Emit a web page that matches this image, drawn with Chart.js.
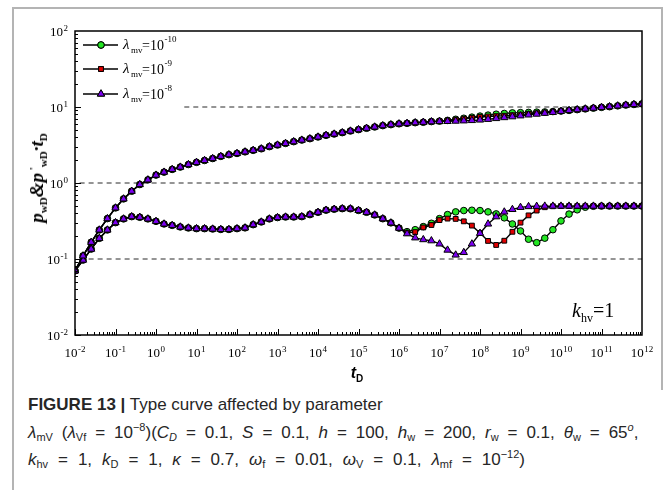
<!DOCTYPE html>
<html><head><meta charset="utf-8">
<script src="https://cdn.jsdelivr.net/npm/chart.js@4.4.1/dist/chart.umd.min.js"></script>
<style>
html,body{margin:0;padding:0;background:#fff;}
#wrap{position:relative;width:665px;height:490px;overflow:hidden;background:#fff;}
#frameL{position:absolute;left:12px;top:7px;width:2px;height:483px;background:#b4b4b4;}
#frameT{position:absolute;left:12px;top:7px;width:651px;height:2px;background:#b4b4b4;}
#frameR{position:absolute;left:661px;top:7px;width:2px;height:383px;background:#b4b4b4;}
canvas{position:absolute;left:0;top:0;}
.cap{position:absolute;left:28px;font-family:'Liberation Sans',Arial,sans-serif;font-size:17px;color:#262626;white-space:nowrap;line-height:20px;}
.cap.m2{word-spacing:4.2px;}
.cap.m3{word-spacing:5.2px;}
.cap sub,.cap sup{font-size:11px;line-height:0;}
.cap sub{vertical-align:-3px;}
.cap sup{vertical-align:7px;}
#ylab{position:absolute;left:37px;top:178px;transform:translate(-50%,-50%) rotate(-90deg);font:bold italic 19px 'Liberation Serif',serif;white-space:nowrap;line-height:20px;color:#000;}
#ylab sub{font-size:11px;font-style:normal;vertical-align:-4px;line-height:0;}
#ylab sup{font-size:11px;font-style:normal;vertical-align:6px;line-height:0;}
#xlab{position:absolute;left:357px;top:373px;transform:translate(-50%,-50%);font:bold italic 16px 'Liberation Sans',Arial,sans-serif;white-space:nowrap;line-height:18px;}
#xlab sub{font-size:10px;font-style:normal;vertical-align:-4px;line-height:0;}
#khv{position:absolute;left:572px;top:299px;font:20px 'Liberation Serif',serif;white-space:nowrap;line-height:22px;}
#khv sub{font-size:12px;vertical-align:-5px;line-height:0;}
</style></head>
<body>
<div id="wrap">
<canvas id="c" width="665" height="390"></canvas>
<div id="frameL"></div><div id="frameT"></div><div id="frameR"></div>
<div id="ylab">p<sub>wD</sub>&amp;p<sup> '</sup><sub>wD</sub>·t<sub>D</sub></div>
<div id="xlab">t<sub>D</sub></div>
<div id="khv"><i>k</i><sub>hv</sub>=1</div>
<div class="cap" style="top:395px"><b>FIGURE 13 |</b> Type curve affected by parameter</div>
<div class="cap m2" style="top:423px"><i>λ</i><sub>mV</sub> (<i>λ</i><sub>Vf</sub> = 10<sup>−8</sup>)(<i>C<sub>D</sub></i> = 0.1, <i>S</i> = 0.1, <i>h</i> = 100, <i>h</i><sub>w</sub> = 200, <i>r</i><sub>w</sub> = 0.1, <i>θ</i><sub>w</sub> = 65<sup><i>o</i></sup>,</div>
<div class="cap m3" style="top:450px"><i>k</i><sub>hv</sub> = 1, <i>k</i><sub>D</sub> = 1, <i>κ</i> = 0.7, <i>ω</i><sub>f</sub> = 0.01, <i>ω</i><sub>V</sub> = 0.1, <i>λ</i><sub>mf</sub> = 10<sup>−12</sup>)</div>
</div>
<script>
// ---- data ----
const tD = [
  1e-2,1.58e-2,2.51e-2,3.98e-2,6.31e-2,
  1e-1,1.58e-1,2.51e-1,3.98e-1,6.31e-1,
  1,1.58,2.51,3.98,6.31,
  1e1,1.58e1,2.51e1,3.98e1,6.31e1,
  1e2,1.58e2,2.51e2,3.98e2,6.31e2,
  1e3,1.58e3,2.51e3,3.98e3,6.31e3,
  1e4,1.58e4,2.51e4,3.98e4,6.31e4,
  1e5,1.58e5,2.51e5,3.98e5,6.31e5,
  1e6,1.58e6,2.51e6,3.98e6,6.31e6,
  1e7,1.58e7,2.51e7,3.98e7,6.31e7,
  1e8,1.58e8,2.51e8,3.98e8,6.31e8,
  1e9,1.58e9,2.51e9,3.98e9,6.31e9,
  1e10,1.58e10,2.51e10,3.98e10,6.31e10,
  1e11,1.58e11,2.51e11,3.98e11,6.31e11,
  1e12
];
// pressure pwD, shared part (t index 0..43)
const pwdShared = [
  0.070,0.110,0.166,0.241,0.340,0.470,0.618,0.780,0.955,1.10,
  1.27,1.39,1.51,1.62,1.75,1.87,1.98,2.10,2.24,2.36,
  2.45,2.57,2.69,2.82,3.01,3.16,3.32,3.50,3.67,3.83,
  4.03,4.24,4.41,4.60,4.83,5.04,5.25,5.46,5.69,5.86,
  6.01,6.10,6.22,6.30
];
// pwD tails (t index 44..70)
const pwdTail_m10 = [6.43,6.52,6.67,6.89,7.11,7.35,7.59,7.82,8.04,8.22,8.36,8.43,8.49,8.55,8.61,8.71,8.83,9.02,9.23,9.44,9.66,9.89,10.1,10.35,10.6,10.8,11.0];
const pwdTail_m9  = [6.43,6.50,6.62,6.81,7.01,7.21,7.38,7.50,7.59,7.67,7.80,7.94,8.13,8.28,8.45,8.63,8.83,9.02,9.23,9.44,9.66,9.89,10.1,10.35,10.6,10.8,11.0];
const pwdTail_m8  = [6.40,6.44,6.47,6.52,6.58,6.65,6.75,6.89,7.06,7.26,7.45,7.66,7.87,8.07,8.28,8.51,8.77,9.02,9.23,9.44,9.66,9.89,10.1,10.35,10.6,10.8,11.0];
// derivative p'wD*tD, shared part (t index 0..39)
const derShared = [
  0.070,0.0968,0.135,0.187,0.241,0.301,0.337,0.361,0.354,0.337,
  0.313,0.289,0.277,0.264,0.256,0.251,0.251,0.248,0.245,0.245,
  0.251,0.257,0.283,0.307,0.337,0.351,0.357,0.357,0.361,0.384,
  0.412,0.439,0.452,0.460,0.458,0.436,0.412,0.380,0.339,0.299
];
// derivative tails (t index 40..70)
const derTail_m10 = [0.255,0.229,0.243,0.267,0.295,0.340,0.384,0.417,0.434,0.438,0.434,0.417,0.392,0.348,0.289,0.234,0.182,0.164,0.188,0.243,0.317,0.390,0.444,0.480,0.494,0.497,0.497,0.497,0.497,0.497,0.497];
const derTail_m9  = [0.255,0.222,0.226,0.260,0.280,0.325,0.340,0.337,0.313,0.275,0.220,0.173,0.153,0.174,0.228,0.301,0.375,0.434,0.480,0.494,0.497,0.497,0.497,0.497,0.497,0.497,0.497,0.497,0.497,0.497,0.497];
const derTail_m8  = [0.255,0.215,0.190,0.180,0.174,0.158,0.131,0.113,0.122,0.158,0.218,0.289,0.360,0.416,0.449,0.478,0.490,0.494,0.497,0.497,0.497,0.497,0.497,0.497,0.497,0.497,0.497,0.497,0.497,0.497,0.497];
// reference dashed lines: [tStart, tEnd, level]
const refLines = [[5,1e12,10],[0.013,1e12,1],[0.013,1e12,0.1]];
const xTickExps = [-2,-1,0,1,2,3,4,5,6,7,8,9,10,11,12];
const yTickExps = [-2,-1,0,1,2];
const seriesExps = ['-10','-9','-8'];

// ---- build ----
const pts = ys => ys.map((v,i)=>({x:tD[i],y:v}));
const styles = [
  {bg:'#22e622', shape:'circle', r:3.3},
  {bg:'#e00000', shape:'rect', r:3.4},
  {bg:'#7b00f0', shape:'triangle', r:4.2}
];
const pwd = [pwdShared.concat(pwdTail_m10), pwdShared.concat(pwdTail_m9), pwdShared.concat(pwdTail_m8)];
const der = [derShared.concat(derTail_m10), derShared.concat(derTail_m9), derShared.concat(derTail_m8)];
const datasets = [];
refLines.forEach(r=>{
  datasets.push({data:[{x:r[0],y:r[2]},{x:r[1],y:r[2]}],borderColor:'#2a2a2a',borderWidth:1,borderDash:[5,4],pointRadius:0,showLine:true,order:10});
});
[0,1,2].forEach(k=>{
  const s = styles[k];
  [pwd[k],der[k]].forEach(arr=>{
    datasets.push({data:pts(arr),showLine:true,borderColor:'#000',borderWidth:1.4,
      pointStyle:s.shape,pointRadius:s.r,pointBackgroundColor:s.bg,pointBorderColor:'#000',pointBorderWidth:1,
      order:5-k});
  });
});

function drawPow(ctx, exp, x, y, align, size){
  const base = '10';
  ctx.font = size+'px "Liberation Serif", serif';
  const wb = ctx.measureText(base).width;
  ctx.font = Math.round(size*0.68)+'px "Liberation Serif", serif';
  const we = ctx.measureText(String(exp)).width;
  const tot = wb + we + 0.5;
  let x0 = align==='right' ? x - tot : x - tot/2;
  ctx.textBaseline = 'alphabetic'; ctx.textAlign='left';
  ctx.font = size+'px "Liberation Serif", serif';
  ctx.fillText(base, x0, y);
  ctx.font = Math.round(size*0.68)+'px "Liberation Serif", serif';
  ctx.fillText(String(exp), x0+wb+0.5, y - size*0.42);
}

const decor = {
  id:'decor',
  afterDraw(chart){
    const {ctx, chartArea:a, scales:{x,y}} = chart;
    ctx.save();
    ctx.fillStyle = '#000'; ctx.strokeStyle='#000';
    // ticks
    ctx.lineWidth = 1;
    ctx.beginPath();
    for (let e=-2;e<12;e++){
      for (let m=1;m<10;m++){
        const px = Math.round(x.getPixelForValue(m*Math.pow(10,e)))+0.5;
        const len = m===1?6:3;
        ctx.moveTo(px,a.bottom); ctx.lineTo(px,a.bottom-len);
      }
    }
    for (let e=-2;e<2;e++){
      for (let m=1;m<10;m++){
        const py = Math.round(y.getPixelForValue(m*Math.pow(10,e)))+0.5;
        const len = m===1?6:3;
        ctx.moveTo(a.left,py); ctx.lineTo(a.left+len,py);
      }
    }
    ctx.stroke();
    // frame
    ctx.lineWidth = 1.5;
    ctx.strokeRect(a.left, a.top, a.right-a.left, a.bottom-a.top);
    // tick labels
    xTickExps.forEach(e=>{ drawPow(ctx, e, x.getPixelForValue(Math.pow(10,e)), a.bottom+22, 'center', 13); });
    yTickExps.forEach(e=>{ drawPow(ctx, e, a.left-7, y.getPixelForValue(Math.pow(10,e))+5, 'right', 13); });
    // legend
    const rows = [45,69,94];
    rows.forEach((ry,k)=>{
      const s = styles[k];
      ctx.lineWidth = 1.4; ctx.strokeStyle='#000';
      ctx.beginPath(); ctx.moveTo(83,ry); ctx.lineTo(118,ry); ctx.stroke();
      ctx.lineWidth = 1; ctx.fillStyle = s.bg;
      Chart.helpers.drawPoint(ctx,{pointStyle:s.shape,radius:s.r,rotation:0,borderWidth:1},101,ry);
      ctx.fill(); ctx.stroke();
      ctx.fillStyle = '#000';
      ctx.textAlign='left'; ctx.textBaseline='alphabetic';
      ctx.font = 'italic 15px "Liberation Serif", serif';
      ctx.fillText('λ',123,ry+4);
      ctx.font = '9px "Liberation Serif", serif';
      ctx.fillText('mv',131,ry+8);
      ctx.font = '14px "Liberation Serif", serif';
      ctx.fillText('=10',142,ry+5);
      const w = ctx.measureText('=10').width;
      ctx.font = '9px "Liberation Serif", serif';
      ctx.fillText(seriesExps[k],142+w+0.5,ry-3);
    });
    ctx.restore();
  }
};

new Chart(document.getElementById('c'),{
  type:'scatter',
  data:{datasets},
  options:{
    responsive:false, animation:false, devicePixelRatio:1,
    layout:{padding:{left:75,top:31,right:23,bottom:55}},
    plugins:{legend:{display:false},tooltip:{enabled:false}},
    elements:{line:{tension:0}},
    scales:{
      x:{type:'logarithmic',min:1e-2,max:1e12,display:false},
      y:{type:'logarithmic',min:1e-2,max:1e2,display:false}
    }
  },
  plugins:[decor]
});
</script>
</body></html>
